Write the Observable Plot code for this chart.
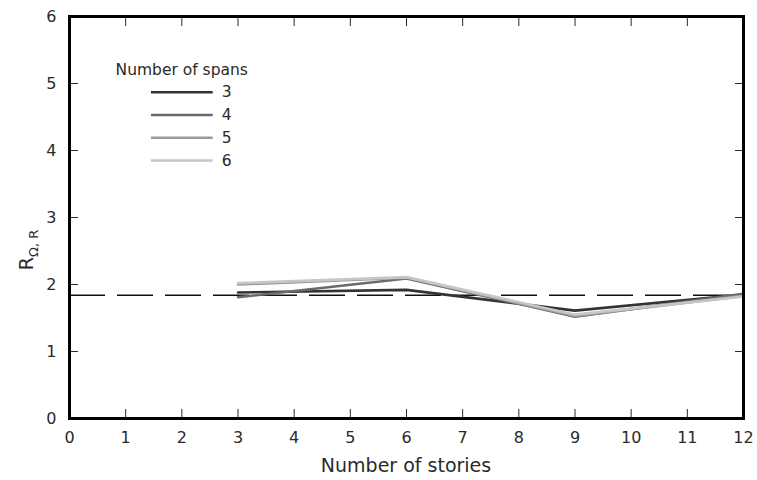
<!DOCTYPE html>
<html><head><meta charset="utf-8">
<script src="https://cdn.jsdelivr.net/npm/d3@7"></script>
<script src="https://cdn.jsdelivr.net/npm/@observablehq/plot@0.6"></script>
<style>body{margin:0;background:#fff;font-family:"DejaVu Sans",sans-serif;}</style>
</head><body><div id="chart"></div>
<script>
const stories = [3, 6, 9, 12];
const spans = ["3", "4", "5", "6"];
const span3 = [1.88, 1.92, 1.61, 1.85];
const span4 = [1.81, 2.09, 1.52, 1.86];
const span5 = [2.00, 2.10, 1.53, 1.83];
const span6 = [2.02, 2.11, 1.55, 1.82];
const refLine = 1.84;
const xTicks = d3.range(0, 13);
const yTicks = d3.range(0, 7);
const colors = ["#333333", "#6a6a6a", "#9a9a9a", "#c6c6c6"];

const seriesVals = [span3, span4, span5, span6];
const data = [];
spans.forEach((s, i) => stories.forEach((x, j) => data.push({span: s, x, y: seriesVals[i][j]})));

// legend layout (in data units)
const legTitle = [{x: 0.82, y: 5.2, t: "Number of spans"}];
const legRows = spans.map((s, i) => ({span: s, x1: 1.45, x2: 2.55, y: 4.87 - i * 0.34}));

const W = 757, H = 480;
const FONT = "'DejaVu Sans', sans-serif";
const plot = Plot.plot({
  width: W, height: H,
  marginLeft: 69, marginRight: 14, marginTop: 16, marginBottom: 62,
  style: {fontFamily: FONT, fontSize: "16px", color: "#2a2a2a"},
  x: {domain: [0, 12]},
  y: {domain: [0, 6]},
  color: {domain: spans, range: colors},
  marks: [
    Plot.ruleY([refLine], {stroke: "#111", strokeWidth: 1.5, strokeDasharray: "36,12"}),
    Plot.line(data, {x: "x", y: "y", z: "span", stroke: "span", strokeWidth: 2.6}),
    Plot.text(legTitle, {x: "x", y: "y", text: "t", textAnchor: "start", fontSize: 15.5, fill: "#2a2a2a"}),
    Plot.link(legRows, {x1: "x1", x2: "x2", y1: "y", y2: "y", stroke: "span", strokeWidth: 2.6}),
    Plot.text(legRows, {x: d => d.x2 + 0.16, y: "y", text: "span", textAnchor: "start", fontSize: 15.5, fill: "#2a2a2a"}),
    Plot.axisX({ticks: xTicks, tickSize: -9, tickPadding: 22, tickFormat: d => d, label: null, fontSize: 16}),
    Plot.axisX({ticks: xTicks, anchor: "top", tickSize: -9, tickFormat: () => "", label: null}),
    Plot.axisY({ticks: yTicks, tickSize: -9, tickPadding: 22, tickFormat: d => d, label: null, fontSize: 16}),
    Plot.axisY({ticks: yTicks, anchor: "right", tickSize: -9, tickFormat: () => "", label: null}),
    Plot.frame({stroke: "#000", strokeWidth: 3})
  ]
});
const svg = d3.select(plot);
svg.append("text").attr("x", 406).attr("y", 472).attr("text-anchor", "middle")
  .attr("font-family", FONT).attr("font-size", 19).attr("fill", "#2a2a2a").text("Number of stories");
const yl = svg.append("text").attr("transform", "translate(33,250) rotate(-90)")
  .attr("font-family", FONT).attr("text-anchor", "middle").attr("font-size", 19).attr("fill", "#2a2a2a");
yl.append("tspan").text("R");
yl.append("tspan").attr("dy", 5).attr("font-size", 13).text("Ω, R");
document.getElementById("chart").appendChild(plot);
</script></body></html>
